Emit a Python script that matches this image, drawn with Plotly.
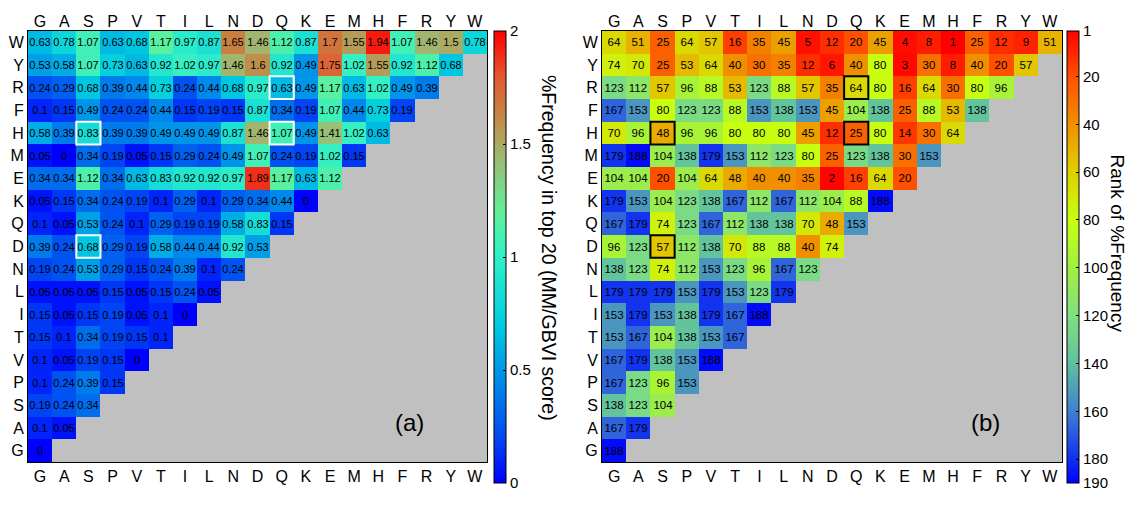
import plotly.graph_objects as go

# residues (columns left->right; rows bottom->top)
residues = ['G', 'A', 'S', 'P', 'V', 'T', 'I', 'L', 'N', 'D', 'Q', 'K', 'E', 'M', 'H', 'F', 'R', 'Y', 'W']

# (a) %Frequency in top 20 (MM/GBVI score), one list per row
pct_W = [0.63, 0.78, 1.07, 0.63, 0.68, 1.17, 0.97, 0.87, 1.65, 1.46, 1.12, 0.87, 1.7, 1.55, 1.94, 1.07, 1.46, 1.5, 0.78]
pct_Y = [0.53, 0.58, 1.07, 0.73, 0.63, 0.92, 1.02, 0.97, 1.46, 1.6, 0.92, 0.49, 1.75, 1.02, 1.55, 0.92, 1.12, 0.68]
pct_R = [0.24, 0.29, 0.68, 0.39, 0.44, 0.73, 0.24, 0.44, 0.68, 0.97, 0.63, 0.49, 1.17, 0.63, 1.02, 0.49, 0.39]
pct_F = [0.1, 0.15, 0.49, 0.24, 0.24, 0.44, 0.15, 0.19, 0.15, 0.87, 0.34, 0.19, 1.07, 0.44, 0.73, 0.19]
pct_H = [0.58, 0.39, 0.83, 0.39, 0.39, 0.49, 0.49, 0.49, 0.87, 1.46, 1.07, 0.49, 1.41, 1.02, 0.63]
pct_M = [0.05, 0, 0.34, 0.19, 0.05, 0.15, 0.29, 0.24, 0.49, 1.07, 0.24, 0.19, 1.02, 0.15]
pct_E = [0.34, 0.34, 1.12, 0.34, 0.63, 0.83, 0.92, 0.92, 0.97, 1.89, 1.17, 0.63, 1.12]
pct_K = [0.05, 0.15, 0.34, 0.24, 0.19, 0.1, 0.29, 0.1, 0.29, 0.34, 0.44, 0]
pct_Q = [0.1, 0.05, 0.53, 0.24, 0.1, 0.29, 0.19, 0.19, 0.58, 0.83, 0.15]
pct_D = [0.39, 0.24, 0.68, 0.29, 0.19, 0.58, 0.44, 0.44, 0.92, 0.53]
pct_N = [0.19, 0.24, 0.53, 0.29, 0.15, 0.24, 0.39, 0.1, 0.24]
pct_L = [0.05, 0.05, 0.05, 0.15, 0.05, 0.15, 0.24, 0.05]
pct_I = [0.15, 0.05, 0.15, 0.19, 0.05, 0.1, 0]
pct_T = [0.15, 0.1, 0.34, 0.19, 0.15, 0.1]
pct_V = [0.1, 0.05, 0.19, 0.15, 0]
pct_P = [0.1, 0.24, 0.39, 0.15]
pct_S = [0.19, 0.24, 0.34]
pct_A = [0.1, 0.05]
pct_G = [0]

# (b) Rank of %Frequency, one list per row
rank_W = [64, 51, 25, 64, 57, 16, 35, 45, 5, 12, 20, 45, 4, 8, 1, 25, 12, 9, 51]
rank_Y = [74, 70, 25, 53, 64, 40, 30, 35, 12, 6, 40, 80, 3, 30, 8, 40, 20, 57]
rank_R = [123, 112, 57, 96, 88, 53, 123, 88, 57, 35, 64, 80, 16, 64, 30, 80, 96]
rank_F = [167, 153, 80, 123, 123, 88, 153, 138, 153, 45, 104, 138, 25, 88, 53, 138]
rank_H = [70, 96, 48, 96, 96, 80, 80, 80, 45, 12, 25, 80, 14, 30, 64]
rank_M = [179, 188, 104, 138, 179, 153, 112, 123, 80, 25, 123, 138, 30, 153]
rank_E = [104, 104, 20, 104, 64, 48, 40, 40, 35, 2, 16, 64, 20]
rank_K = [179, 153, 104, 123, 138, 167, 112, 167, 112, 104, 88, 188]
rank_Q = [167, 179, 74, 123, 167, 112, 138, 138, 70, 48, 153]
rank_D = [96, 123, 57, 112, 138, 70, 88, 88, 40, 74]
rank_N = [138, 123, 74, 112, 153, 123, 96, 167, 123]
rank_L = [179, 179, 179, 153, 179, 153, 123, 179]
rank_I = [153, 179, 153, 138, 179, 167, 188]
rank_T = [153, 167, 104, 138, 153, 167]
rank_V = [167, 179, 138, 153, 188]
rank_P = [167, 123, 96, 153]
rank_S = [138, 123, 104]
rank_A = [167, 179]
rank_G = [188]

# highlighted (row, column) pairs
highlight_pairs = [('H', 'S'), ('H', 'Q'), ('R', 'Q'), ('D', 'S')]

freq_ticks = [0, 0.5, 1, 1.5, 2]
rank_ticks = [1, 20, 40, 60, 80, 100, 120, 140, 160, 180, 190]

pct_rows = {'W': pct_W, 'Y': pct_Y, 'R': pct_R, 'F': pct_F, 'H': pct_H, 'M': pct_M, 'E': pct_E,
            'K': pct_K, 'Q': pct_Q, 'D': pct_D, 'N': pct_N, 'L': pct_L, 'I': pct_I, 'T': pct_T,
            'V': pct_V, 'P': pct_P, 'S': pct_S, 'A': pct_A, 'G': pct_G}
rank_rows = {'W': rank_W, 'Y': rank_Y, 'R': rank_R, 'F': rank_F, 'H': rank_H, 'M': rank_M, 'E': rank_E,
             'K': rank_K, 'Q': rank_Q, 'D': rank_D, 'N': rank_N, 'L': rank_L, 'I': rank_I, 'T': rank_T,
             'V': rank_V, 'P': rank_P, 'S': rank_S, 'A': rank_A, 'G': rank_G}

n = len(residues)
idx = list(range(n))

def build(rows, transform, fmt):
    z, t = [], []
    for r in residues:
        vals = rows[r]
        pad = n - len(vals)
        z.append([transform(v) for v in vals] + [None] * pad)
        t.append([fmt(v) for v in vals] + [''] * pad)
    return z, t

za, ta = build(pct_rows, lambda v: v, lambda v: f"{v:g}")
zb, tb = build(rank_rows, lambda v: -v, lambda v: str(v))

FONT = "Liberation Sans, Arial, sans-serif"

# colour scales
stops_a = [(0.0, '#0000ff'), (0.2, '#0048f2'), (0.5, '#0098e8'), (0.7, '#00cce0'), (1.0, '#30f0c8'),
           (1.2, '#60f098'), (1.45, '#a0b870'), (1.65, '#c88040'), (1.8, '#e45830'), (2.0, '#ff0000')]
cs_a = [[v / 2.0, c] for v, c in stops_a]
stops_b = [(190, '#0000ff'), (180, '#1030f0'), (160, '#4080d0'), (140, '#60c0a0'), (120, '#80e080'),
           (100, '#a0f040'), (80, '#c8ff10'), (60, '#e0d000'), (40, '#f09000'), (20, '#ff5000'), (1, '#ff0000')]
cs_b = [[(190 - r) / 189.0, c] for r, c in stops_b]

W, H = 1143, 506
top_px, bot_px = 31, 462
cb_top, cb_bot = 31, 483
ydom = [1 - bot_px / H, 1 - top_px / H]
cb_len = (cb_bot - cb_top) / H
cb_y = 1 - (cb_top + cb_bot) / 2 / H

fig = go.Figure()
fig.add_trace(go.Heatmap(
    x=idx, y=idx, z=za, text=ta, texttemplate="%{text}",
    textfont=dict(family=FONT, size=11, color='black'),
    colorscale=cs_a, zmin=0, zmax=2, xaxis='x', yaxis='y', hoverinfo='skip',
    colorbar=dict(x=494 / W, xanchor='left', y=cb_y, yanchor='middle', len=cb_len, lenmode='fraction',
                  thickness=12, xpad=0, ypad=0, outlinecolor='black', outlinewidth=1,
                  tickvals=freq_ticks, ticktext=[f"{v:g}" for v in freq_ticks],
                  ticks='inside', ticklen=3, tickcolor='black',
                  tickfont=dict(family=FONT, size=15, color='black'))))
fig.add_trace(go.Heatmap(
    x=idx, y=idx, z=zb, text=tb, texttemplate="%{text}",
    textfont=dict(family=FONT, size=11.5, color='black'),
    colorscale=cs_b, zmin=-190, zmax=-1, xaxis='x2', yaxis='y2', hoverinfo='skip',
    colorbar=dict(x=1067 / W, xanchor='left', y=cb_y, yanchor='middle', len=cb_len, lenmode='fraction',
                  thickness=12, xpad=0, ypad=0, outlinecolor='black', outlinewidth=1,
                  tickvals=[-r for r in rank_ticks], ticktext=[str(r) for r in rank_ticks],
                  ticks='inside', ticklen=3, tickcolor='black',
                  tickfont=dict(family=FONT, size=15, color='black'))))
# dummy traces so top axes are drawn
fig.add_trace(go.Scatter(x=[None], y=[None], xaxis='x3', yaxis='y', showlegend=False, hoverinfo='skip'))
fig.add_trace(go.Scatter(x=[None], y=[None], xaxis='x4', yaxis='y2', showlegend=False, hoverinfo='skip'))

rng = [-0.5, n - 0.5]
axis_common = dict(range=rng, tickvals=idx, ticktext=residues, showgrid=False, zeroline=False,
                   ticks='', tickfont=dict(family=FONT, size=16, color='black'), fixedrange=True)
xa = dict(axis_common, showline=True, linecolor='black', linewidth=1, mirror=True)
fig.update_layout(
    width=W, height=H, margin=dict(l=0, r=0, t=0, b=0),
    paper_bgcolor='white', plot_bgcolor='#c0c0c0', showlegend=False,
    xaxis=dict(xa, domain=[28 / W, 487 / W], anchor='y', side='bottom'),
    yaxis=dict(xa, domain=ydom, anchor='x'),
    xaxis2=dict(xa, domain=[602 / W, 1062 / W], anchor='y2', side='bottom'),
    yaxis2=dict(xa, domain=ydom, anchor='x2'),
    xaxis3=dict(axis_common, overlaying='x', anchor='y', side='top', showline=False),
    xaxis4=dict(axis_common, overlaying='x2', anchor='y2', side='top', showline=False),
)

# highlight boxes
for r, c in highlight_pairs:
    yi, xi = residues.index(r), residues.index(c)
    fig.add_shape(type='rect', xref='x', yref='y', x0=xi - 0.5, x1=xi + 0.5, y0=yi - 0.5, y1=yi + 0.5,
                  line=dict(color='white', width=2))
    fig.add_shape(type='rect', xref='x2', yref='y2', x0=xi - 0.5, x1=xi + 0.5, y0=yi - 0.5, y1=yi + 0.5,
                  line=dict(color='black', width=2))

# panel labels
fig.add_annotation(text='(a)', xref='x domain', yref='y domain', x=0.867, y=0.056, showarrow=False,
                   font=dict(family=FONT, size=24, color='black'))
fig.add_annotation(text='(b)', xref='x2 domain', yref='y2 domain', x=0.87, y=0.056, showarrow=False,
                   font=dict(family=FONT, size=24, color='black'))
# colorbar titles
fig.add_annotation(text='%Frequency in top 20 (MM/GBVI score)', xref='paper', yref='paper',
                   x=549 / W, y=1 - 248 / H, textangle=90, showarrow=False,
                   font=dict(family=FONT, size=19.5, color='black'))
fig.add_annotation(text='Rank of %Frequency', xref='paper', yref='paper',
                   x=1130 / W, y=1 - 243 / H, textangle=90, showarrow=False,
                   font=dict(family=FONT, size=19, color='black'))

fig.write_html("out.html")
